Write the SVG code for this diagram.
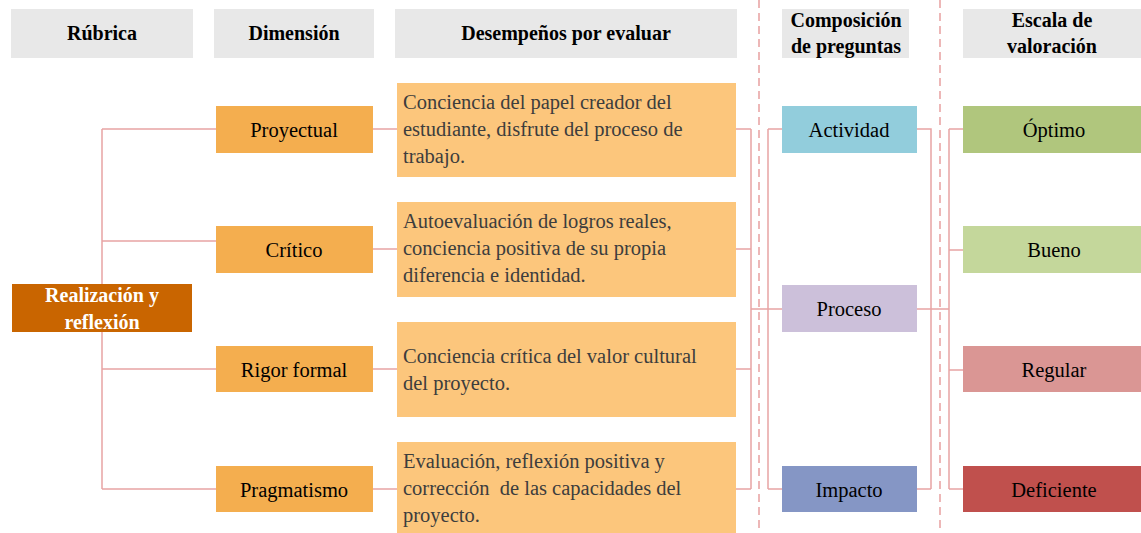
<svg xmlns="http://www.w3.org/2000/svg" width="1141" height="533" viewBox="0 0 1141 533">
<style>
.hdr{fill:#e8e8e8}
.ht{font-weight:bold;font-size:20px;fill:#000;text-anchor:middle}
.t{font-size:20.5px;fill:#000;text-anchor:middle}
.d{font-size:20.5px;fill:#3d3d3d}
.dim{fill:#f4ae4f}
.des{fill:#fcc67c}
.c{fill:none;stroke:#e8a4a4;stroke-width:1.5}
.dash{fill:none;stroke:#e8a0a0;stroke-width:1.5;stroke-dasharray:8 5}
</style>
<rect width="1141" height="533" fill="#fff"/>
<g id="separators">
<line class="dash" x1="759" y1="0" x2="759" y2="533"/>
<line class="dash" x1="940" y1="0" x2="940" y2="533"/>
</g>
<g font-family="Liberation Serif, Tinos, Noto Serif, DejaVu Serif, FreeSerif, Times New Roman, serif">
<g id="headers">
<g id="h-rubrica"><rect class="hdr" x="11" y="9" width="182" height="49"/><text class="ht" x="102" y="40">Rúbrica</text></g>
<g id="h-dimension"><rect class="hdr" x="214" y="9" width="160" height="49"/><text class="ht" x="294" y="40">Dimensión</text></g>
<g id="h-desempenos"><rect class="hdr" x="395" y="9" width="342" height="49"/><text class="ht" x="566" y="40">Desempeños por evaluar</text></g>
<g id="h-composicion"><rect class="hdr" x="782" y="9" width="127" height="49"/><text class="ht" x="846" y="27">Composición</text><text class="ht" x="846" y="53">de preguntas</text></g>
<g id="h-escala"><rect class="hdr" x="963" y="9" width="178" height="49"/><text class="ht" x="1052" y="27">Escala de</text><text class="ht" x="1052" y="53">valoración</text></g>
</g>
<g id="connectors">
<path class="c" d="M102 129 V489 M102 129 H216 M102 241 H216 M102 369 H216 M102 489 H216"/>
<path class="c" d="M373 129 H397 M373 249 H397 M373 369 H397 M373 489 H397"/>
<path class="c" d="M736 129 H751 M736 249 H751 M736 369 H751 M736 489 H751 M751 129 V489 M751 309 H782"/>
<path class="c" d="M768 129 V489 M768 129 H782 M768 489 H782"/>
<path class="c" d="M917 129 H931 V489 M917 489 H931 M917 309 H949"/>
<path class="c" d="M949 129 V489 M949 129 H963 M949 250 H963 M949 370 H963 M949 489 H963"/>
</g>
<g id="n-realizacion"><rect x="12" y="284" width="180" height="48" fill="#c96500"/><text class="ht" x="102" y="302" style="fill:#fff">Realización y</text><text class="ht" x="102" y="329" style="fill:#fff">reflexión</text></g>
<g id="n-proyectual"><rect class="dim" x="216" y="106" width="157" height="47"/><text class="t" x="294" y="137">Proyectual</text></g>
<g id="n-critico"><rect class="dim" x="216" y="226" width="157" height="47"/><text class="t" x="294" y="257">Crítico</text></g>
<g id="n-rigor"><rect class="dim" x="216" y="346" width="157" height="46"/><text class="t" x="294" y="377">Rigor formal</text></g>
<g id="n-pragmatismo"><rect class="dim" x="216" y="466" width="157" height="46"/><text class="t" x="294" y="497">Pragmatismo</text></g>
<g id="n-des1"><rect class="des" x="397" y="83" width="339" height="94"/><text class="d" x="403" y="109">Conciencia del papel creador del</text><text class="d" x="403" y="136">estudiante, disfrute del proceso de</text><text class="d" x="403" y="163">trabajo.</text></g>
<g id="n-des2"><rect class="des" x="397" y="202" width="339" height="95"/><text class="d" x="403" y="228">Autoevaluación de logros reales,</text><text class="d" x="403" y="255">conciencia positiva de su propia</text><text class="d" x="403" y="282">diferencia e identidad.</text></g>
<g id="n-des3"><rect class="des" x="397" y="322" width="339" height="95"/><text class="d" x="403" y="363">Conciencia crítica del valor cultural</text><text class="d" x="403" y="390">del proyecto.</text></g>
<g id="n-des4"><rect class="des" x="397" y="442" width="339" height="95"/><text class="d" x="403" y="468">Evaluación, reflexión positiva y</text><text class="d" x="403" y="495" xml:space="preserve">corrección  de las capacidades del</text><text class="d" x="403" y="522">proyecto.</text></g>
<g id="n-actividad"><rect x="782" y="106" width="135" height="47" fill="#92cddc"/><text class="t" x="849" y="137">Actividad</text></g>
<g id="n-proceso"><rect x="782" y="285" width="135" height="47" fill="#ccc0da"/><text class="t" x="849" y="316">Proceso</text></g>
<g id="n-impacto"><rect x="782" y="466" width="135" height="46" fill="#8596c5"/><text class="t" x="849" y="497">Impacto</text></g>
<g id="n-optimo"><rect x="963" y="106" width="178" height="47" fill="#b0c67d"/><text class="t" x="1054" y="137">Óptimo</text></g>
<g id="n-bueno"><rect x="963" y="226" width="178" height="47" fill="#c4d79b"/><text class="t" x="1054" y="257">Bueno</text></g>
<g id="n-regular"><rect x="963" y="346" width="178" height="46" fill="#da9694"/><text class="t" x="1054" y="377">Regular</text></g>
<g id="n-deficiente"><rect x="963" y="466" width="178" height="46" fill="#c0504d"/><text class="t" x="1054" y="497">Deficiente</text></g>
</g>
</svg>
